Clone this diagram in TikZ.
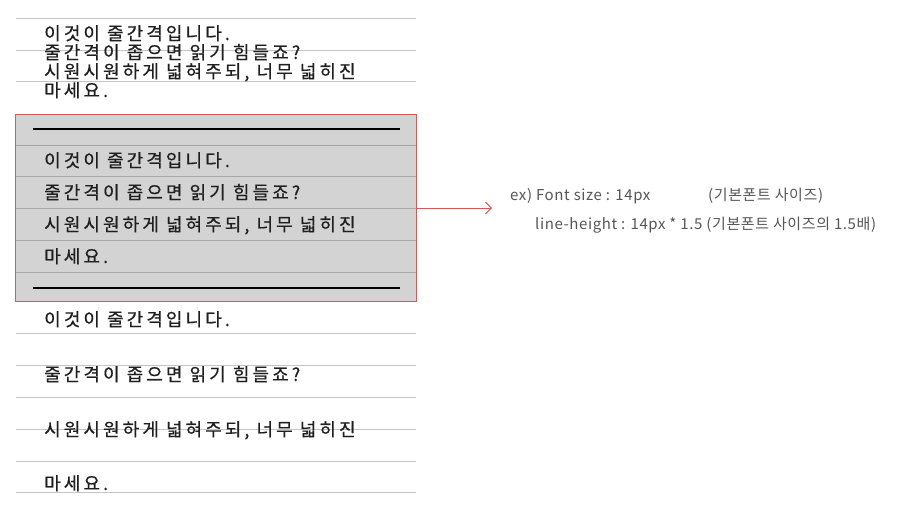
\documentclass[tikz,border=0pt]{standalone}
\usepackage{fontspec}
\setmainfont{Noto Sans CJK KR}
\newfontfamily\korfont[LetterSpace=17,FakeBold=0.6]{Noto Sans CJK KR}
\newfontfamily\notefont[LetterSpace=4]{Noto Sans CJK KR}
\usetikzlibrary{arrows.meta}
\definecolor{lightrule}{HTML}{C4C4C4}
\definecolor{boxrule}{HTML}{A8A8A8}
\definecolor{boxfill}{HTML}{D3D3D3}
\definecolor{redline}{HTML}{D45A5A}
\definecolor{notegray}{HTML}{555555}
\tikzset{
  rule/.style={draw=lightrule, line width=1pt},
  innerrule/.style={draw=boxrule, line width=1pt},
  blackrule/.style={draw=black, line width=1.5pt},
  kor/.style={anchor=base west, inner sep=0pt, font=\korfont\fontsize{18}{18}\selectfont, text=black!88},
  note/.style={anchor=base west, inner sep=0pt, font=\notefont\fontsize{15}{15}\selectfont, text=notegray},
}
\begin{document}
\begin{tikzpicture}[x=1pt,y=-1pt]
\useasboundingbox (0,0) rectangle (900,509);
% top section
\foreach \yy in {18,50,81} \draw[rule] (16,\yy) -- (416,\yy);
\node[kor] (t1) at (44,40) {이것이 줄간격입니다.};
\node[kor] (t2) at (44,59) {줄간격이 좁으면 읽기 힘들죠?};
\node[kor] (t3) at (44,78) {시원시원하게 넓혀주되, 너무 넓히진};
\node[kor] (t4) at (44,97) {마세요.};
% box
\node[draw=redline, fill=boxfill, line width=1pt, minimum width=401pt, minimum height=187pt, inner sep=0pt, anchor=north west] (box) at (15,114) {};
\foreach \yy in {145,176,208,240,272} \draw[innerrule] (15.5,\yy) -- (415.5,\yy);
\draw[blackrule] (33,129) -- (400,129);
\draw[blackrule] (33,288) -- (400,288);
\node[kor] (b1) at (44,167) {이것이 줄간격입니다.};
\node[kor] (b2) at (44,199) {줄간격이 좁으면 읽기 힘들죠?};
\node[kor] (b3) at (44,231) {시원시원하게 넓혀주되, 너무 넓히진};
\node[kor] (b4) at (44,263) {마세요.};
% arrow
\coordinate (arrowend) at (492,208);
\draw[redline, line width=1pt, -{Straight Barb[length=6pt,width=12pt]}] (box.east) -- (arrowend);
% bottom section
\foreach \yy in {333,365,397,429,461,492} \draw[rule] (16,\yy) -- (416,\yy);
\node[kor] (c1) at (44,326) {이것이 줄간격입니다.};
\node[kor] (c2) at (44,381) {줄간격이 좁으면 읽기 힘들죠?};
\node[kor] (c3) at (44,436) {시원시원하게 넓혀주되, 너무 넓히진};
\node[kor] (c4) at (44,490) {마세요.};
% notes
\node[note] (n1) at (510,200) {ex) Font size : 14px};
\node[note] (n2) at (708,200) {(기본폰트 사이즈)};
\node[note] (n3) at (535,229) {line-height : 14px * 1.5 (기본폰트 사이즈의 1.5배)};
\end{tikzpicture}
\end{document}
